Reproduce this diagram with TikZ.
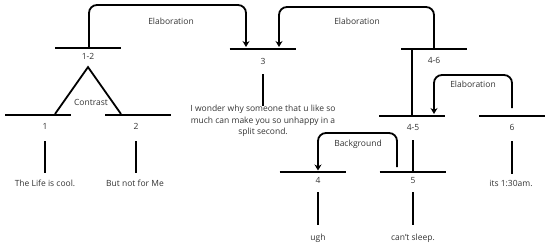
\documentclass[tikz,border=0pt]{standalone}
\usepackage{fontspec}
\setmainfont{Open Sans}
\usetikzlibrary{arrows.meta,calc}
\definecolor{txt}{HTML}{333333}
\begin{document}
\begin{tikzpicture}[x=1pt,y=-1pt,
 bar/.style={minimum width=66pt,minimum height=0pt,inner sep=0pt,outer sep=0pt},
 conn/.style={line width=1.8pt},
 arr/.style={line width=1.8pt,rounded corners=8pt,-{Stealth[length=6pt,width=7pt]}},
 lbl/.style={font=\fontsize{8.5}{11.5}\selectfont,text=txt,inner sep=0pt,text height=6pt,text depth=1.8pt},
 para/.style={font=\fontsize{8.5}{11.5}\selectfont,text=txt,inner sep=0pt,align=center},
]
\useasboundingbox (0,0) rectangle (550,247);
% bars
\node[bar] (b12) at (88,48) {};
\node[bar] (b3) at (262.5,49) {};
\node[bar] (b46) at (434,49) {};
\node[bar] (b45) at (412,116) {};
\node[bar] (b6) at (512,116) {};
\node[bar] (b1) at (38,115) {};
\node[bar] (b2) at (138,115) {};
\node[bar] (b4) at (312.5,172) {};
\node[bar] (b5) at (412.5,172) {};
\foreach \b in {b12,b3,b46,b45,b6,b1,b2,b4,b5}
  \draw[conn] (\b.west) -- (\b.east);
% numbers
\node[lbl] (l12) at (88,57) {1-2};
\node[lbl] (l3) at (263,62) {3};
\node[lbl] (l46) at (434,61) {4-6};
\node[lbl] (l45) at (413,128) {4-5};
\node[lbl] (l6) at (512,128) {6};
\node[lbl] (l1) at (45,127) {1};
\node[lbl] (l2) at (136,127) {2};
\node[lbl] (l4) at (318,181) {4};
\node[lbl] (l5) at (413,181) {5};
% texts
\node[lbl] (t1) at (45,184) {The Life is cool.};
\node[lbl] (t2) at (135,184) {But not for Me};
\node[para] (t3) at (263,121) {I wonder why someone that u like so\\much can make you so unhappy in a\\split second.};
\node[lbl] (t4) at (318,238) {ugh};
\node[lbl] (t5) at (413,238) {can't sleep.};
\node[lbl] (t6) at (511,184) {its 1:30am.};
% relation labels
\node[lbl] (r1) at (171,22) {Elaboration};
\node[lbl] (r2) at (357,22) {Elaboration};
\node[lbl] (r3) at (473,85) {Elaboration};
\node[lbl] (r4) at (358,144) {Background};
\node[lbl] (r5) at (91,103) {Contrast};
% vertical connectors
\draw[conn] ([yshift=-10pt]l1.south) -- ++(0,32);
\draw[conn] ([yshift=-10pt]l2.south) -- ++(0,32);
\draw[conn] ([yshift=-8pt]l3.south) -- ++(0,32);
\draw[conn] ([yshift=-9pt]l6.south) -- ++(0,33);
\draw[conn] ([yshift=-7pt]l4.south) -- ++(0,33);
\draw[conn] ([yshift=-7pt]l5.south) -- ++(0,33);
\draw[conn] ([yshift=-8pt]l45.south) -- (l45.south |- b5.center);
\draw[conn] (b45.center |- b46.center) -- (b45.center);
% contrast
\coordinate (apex) at ([yshift=-6pt]l12.south);
\draw[conn] ([xshift=-16pt,yshift=1pt]b1.east) -- (apex) -- ([xshift=16pt,yshift=1pt]b2.west);
% arrows
\draw[arr,shorten >=2pt] ([xshift=1pt]b12.center) |- ($(b3.center)+(-16.5,-44)$) -- ([xshift=-16.5pt]b3.center);
\draw[arr,shorten >=2pt] (b46.center) |- ($(b3.center)+(16.5,-42)$) -- ([xshift=16.5pt]b3.center);
\draw[arr,shorten >=2pt] ($(b6.center)+(0,-8)$) |- ($(b45.center)+(22,-41)$) -- ([xshift=22pt]b45.center);
\draw[arr,shorten >=1.5pt] ($(b5.center)+(-15.5,-5)$) |- ($(b4.center)+(5.5,-39)$) -- ([xshift=5.5pt]b4.center);
\end{tikzpicture}
\end{document}
